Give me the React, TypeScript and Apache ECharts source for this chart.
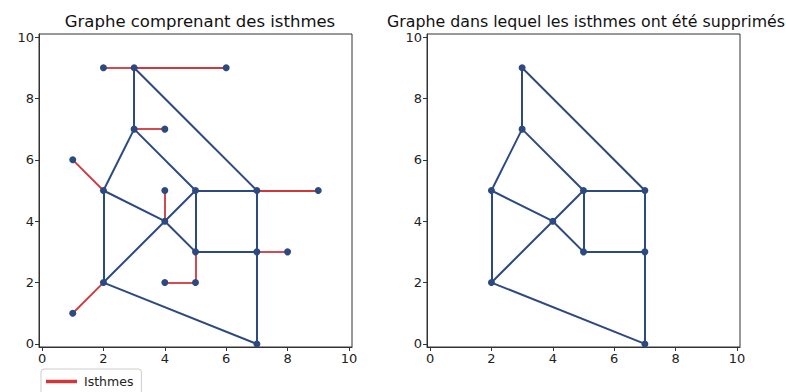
import React, { useEffect, useRef } from "react";
import * as echarts from "echarts";

const titleLeft = "Graphe comprenant des isthmes";
const titleRight = "Graphe dans lequel les isthmes ont été supprimés";
const legendLabel = "Isthmes";
const tickValues = [0, 2, 4, 6, 8, 10];

// Edges that are isthmes (bridges): [x1, y1, x2, y2]
const isthmusEdges = [
  [2, 9, 3, 9],
  [3, 9, 6, 9],
  [3, 7, 4, 7],
  [1, 6, 2, 5],
  [4, 5, 4, 4],
  [7, 5, 9, 5],
  [7, 3, 8, 3],
  [5, 3, 5, 2],
  [4, 2, 5, 2],
  [1, 1, 2, 2],
];

// Edges that remain after removing the isthmes
const cycleEdges = [
  [3, 9, 3, 7],
  [3, 9, 7, 5],
  [3, 7, 2, 5],
  [3, 7, 5, 5],
  [2, 5, 2, 2],
  [2, 5, 4, 4],
  [4, 4, 5, 3],
  [2, 2, 4, 4],
  [4, 4, 5, 5],
  [5, 5, 7, 5],
  [5, 5, 5, 3],
  [5, 3, 7, 3],
  [7, 5, 7, 3],
  [7, 3, 7, 0],
  [2, 2, 7, 0],
];

const allNodes = [
  [2, 9], [3, 9], [6, 9], [3, 7], [4, 7], [1, 6], [2, 5], [4, 5], [5, 5],
  [7, 5], [9, 5], [4, 4], [5, 3], [7, 3], [8, 3], [2, 2], [4, 2], [5, 2],
  [1, 1], [7, 0],
];

const keptNodes = [
  [3, 9], [3, 7], [2, 5], [5, 5], [7, 5], [4, 4], [5, 3], [7, 3], [2, 2], [7, 0],
];

const BLUE = "#2c4a80";
const RED = "#d0363a";
const FONT = "DejaVu Sans";

function toLines(edges: number[][]) {
  return edges.map((e) => ({ coords: [[e[0], e[1]], [e[2], e[3]]] }));
}

function makeAxis(gridIndex: number) {
  return {
    type: "value",
    gridIndex,
    min: -0.1,
    max: 10.1,
    axisLine: { show: true, onZero: false, lineStyle: { color: "#333", width: 1 } },
    axisTick: { show: true, length: 4, customValues: tickValues, lineStyle: { color: "#333" } },
    axisLabel: {
      customValues: tickValues,
      color: "#222",
      fontSize: 13,
      fontFamily: FONT,
      margin: 5,
    },
    splitLine: { show: false },
  };
}

export default function App() {
  const ref = useRef<HTMLDivElement>(null);
  useEffect(() => {
    if (!ref.current) return;
    const chart = echarts.init(ref.current, undefined, { renderer: "svg" });
    chart.setOption({
      animation: false,
      backgroundColor: "#fff",
      title: [
        {
          text: titleLeft,
          left: 195,
          top: 8,
          textAlign: "center",
          textStyle: { fontFamily: FONT, fontSize: 16.5, fontWeight: "normal", color: "#111" },
        },
        {
          text: titleRight,
          left: 581,
          top: 8,
          textAlign: "center",
          textStyle: { fontFamily: FONT, fontSize: 15.8, fontWeight: "normal", color: "#111" },
        },
      ],
      legend: {
        left: 41,
        top: 369,
        data: [{ name: legendLabel, icon: "rect", itemStyle: { color: RED } }],
        itemWidth: 29,
        itemHeight: 1.5,
        itemGap: 8,
        padding: [6, 8, 6, 5],
        borderColor: "#ccc",
        borderWidth: 1,
        borderRadius: 3,
        backgroundColor: "#fff",
        textStyle: { fontFamily: FONT, fontSize: 12.5, color: "#222", padding: [0, 0, 0, 3] },
      },
      grid: [
        { left: 39, top: 34, width: 313, height: 313, show: true, borderColor: "#333", borderWidth: 1 },
        { left: 427, top: 34, width: 313, height: 313, show: true, borderColor: "#333", borderWidth: 1 },
      ],
      xAxis: [makeAxis(0), makeAxis(1)],
      yAxis: [makeAxis(0), makeAxis(1)],
      series: [
        {
          type: "lines",
          name: legendLabel,
          coordinateSystem: "cartesian2d",
          xAxisIndex: 0,
          yAxisIndex: 0,
          data: toLines(isthmusEdges),
          lineStyle: { color: RED, width: 1.8, opacity: 1 },
          itemStyle: { color: RED },
          z: 2,
        },
        {
          type: "lines",
          name: "cycles-left",
          coordinateSystem: "cartesian2d",
          xAxisIndex: 0,
          yAxisIndex: 0,
          data: toLines(cycleEdges),
          lineStyle: { color: BLUE, width: 2, opacity: 1 },
          z: 3,
        },
        {
          type: "scatter",
          name: "nodes-left",
          xAxisIndex: 0,
          yAxisIndex: 0,
          data: allNodes,
          symbolSize: 7,
          itemStyle: { color: BLUE, opacity: 1 },
          z: 4,
        },
        {
          type: "lines",
          name: "cycles-right",
          coordinateSystem: "cartesian2d",
          xAxisIndex: 1,
          yAxisIndex: 1,
          data: toLines(cycleEdges),
          lineStyle: { color: BLUE, width: 2, opacity: 1 },
          z: 3,
        },
        {
          type: "scatter",
          name: "nodes-right",
          xAxisIndex: 1,
          yAxisIndex: 1,
          data: keptNodes,
          symbolSize: 7,
          itemStyle: { color: BLUE, opacity: 1 },
          z: 4,
        },
      ],
    });
    return () => chart.dispose();
  }, []);
  return <div ref={ref} style={{ width: 786, height: 392, position: "absolute", left: 0, top: 0 }} />;
}
